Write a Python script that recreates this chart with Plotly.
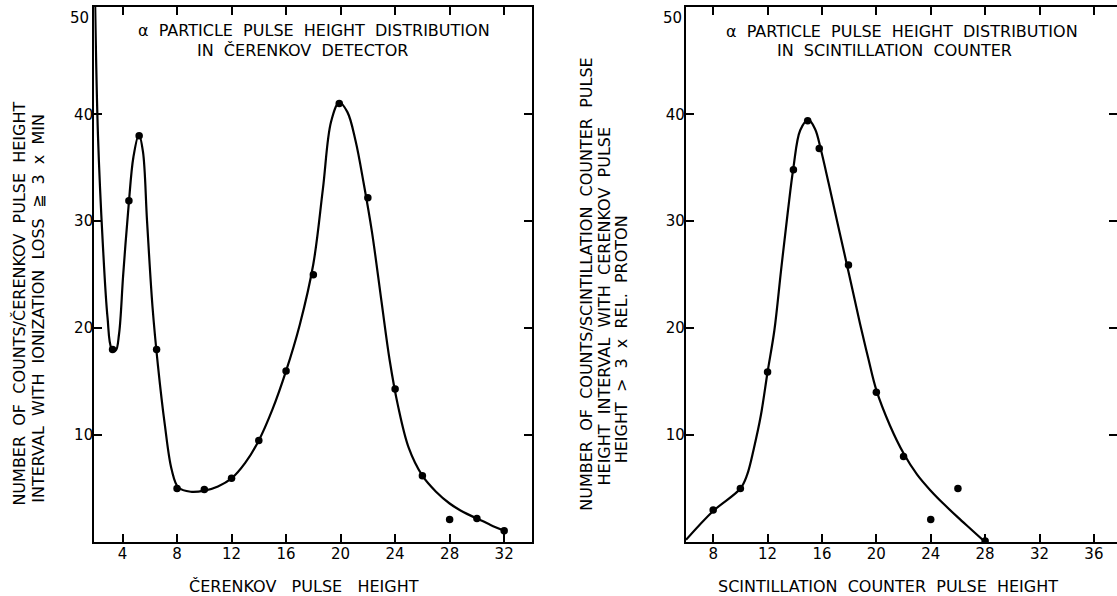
import plotly.graph_objects as go

W, H = 1117, 596

# ---------------- data ----------------
# Left panel: alpha particle pulse height distribution in Cerenkov detector
cer_pts_x = [3.27, 4.47, 5.22, 6.5, 8.0, 10.0, 12.0, 14.0, 16.0, 18.0, 19.9, 22.0, 24.0, 26.0, 28.0, 30.0, 32.0]
cer_pts_y = [18.0, 31.9, 38.0, 18.0, 5.0, 4.9, 5.95, 9.5, 16.0, 25.0, 41.0, 32.2, 14.3, 6.2, 2.1, 2.2, 1.05]

# hand-drawn fit curve (left panel)
cer_curve_x = [1.97, 2.2, 2.55, 2.9, 3.2, 3.5, 3.75, 4.05, 4.45, 4.8, 5.2, 5.5, 5.8, 6.2, 6.6,
               7.1, 7.6, 8.1, 9.0, 10.0, 11.0, 12.0, 13.0, 14.0, 15.0, 16.0, 17.0, 18.0, 18.7,
               19.3, 19.9, 20.5, 21.1, 21.7, 22.3, 23.0, 23.6, 24.2, 25.0, 26.0, 27.0, 28.0,
               29.0, 30.0, 31.0, 32.0]
cer_curve_y = [52.0, 38.0, 28.0, 21.0, 18.1, 17.9, 19.5, 25.0, 31.5, 36.0, 38.1, 36.5, 30.0, 22.0, 16.5,
               11.0, 6.8, 5.1, 4.7, 4.8, 5.2, 5.95, 7.4, 9.5, 12.4, 16.0, 20.3, 26.0, 33.0,
               39.3, 41.1, 40.2, 37.5, 33.5, 29.0, 22.5, 17.0, 12.8, 8.8, 6.2, 4.7, 3.6,
               2.8, 2.2, 1.6, 1.05]

# Right panel: alpha particle pulse height distribution in scintillation counter
sc_pts_x = [8.0, 10.0, 12.0, 13.9, 14.95, 15.8, 17.95, 20.0, 22.0, 24.0, 26.0, 28.0]
sc_pts_y = [3.0, 5.0, 15.9, 34.8, 39.4, 36.8, 25.9, 14.0, 8.0, 2.1, 5.0, 0.1]

# hand-drawn fit curve (right panel)
sc_curve_x = [6.0, 8.0, 10.0, 10.5, 11.0, 11.5, 12.0, 12.5, 13.0, 13.5, 13.9, 14.4, 15.0, 15.5,
              15.9, 16.5, 17.2, 18.0, 18.8, 19.4, 20.0, 21.0, 22.0, 23.0, 24.0, 25.0, 26.0,
              27.0, 28.0]
sc_curve_y = [0.2, 2.9, 5.0, 6.3, 8.8, 11.8, 15.9, 19.8, 25.5, 31.0, 35.0, 38.5, 39.5, 38.6,
              36.8, 33.5, 29.5, 25.0, 20.4, 17.2, 14.2, 10.9, 8.3, 6.3, 4.8, 3.5, 2.3,
              1.15, 0.0]

cer_xticks = [4, 8, 12, 16, 20, 24, 28, 32]
sc_xticks = [8, 12, 16, 20, 24, 28, 32, 36]
yticks = [10, 20, 30, 40, 50]
ytick_text = ["10", "20", "30", "40", ""]   # the top label "50" is lettered just below the frame
top_label = "50"

# ---------------- layout helpers ----------------
FONT = "DejaVu Sans"
T, B = 7, 54
PH = H - T - B


def px(x):
    return x / W


def py(y):
    return (H - B - y) / PH


NB = "\u00a0"


def sp(s, n=2):
    return s.replace(" ", NB * n)


fig = go.Figure()

fig.add_trace(go.Scatter(x=cer_curve_x, y=cer_curve_y, mode="lines",
                         line=dict(color="black", width=2.2, shape="spline", smoothing=1.0),
                         xaxis="x", yaxis="y", hoverinfo="skip", showlegend=False))
fig.add_trace(go.Scatter(x=cer_pts_x, y=cer_pts_y, mode="markers",
                         marker=dict(color="black", size=7.5),
                         xaxis="x", yaxis="y", showlegend=False))
fig.add_trace(go.Scatter(x=sc_curve_x, y=sc_curve_y, mode="lines",
                         line=dict(color="black", width=2.2, shape="spline", smoothing=1.0),
                         xaxis="x2", yaxis="y2", hoverinfo="skip", showlegend=False))
fig.add_trace(go.Scatter(x=sc_pts_x, y=sc_pts_y, mode="markers",
                         marker=dict(color="black", size=7.5),
                         xaxis="x2", yaxis="y2", showlegend=False))
# invisible trace to activate right-side tick axis of right panel
fig.add_trace(go.Scatter(x=[20], y=[20], mode="markers", marker=dict(opacity=0),
                         xaxis="x2", yaxis="y3", hoverinfo="skip", showlegend=False))

axstyle = dict(showline=True, linecolor="black", linewidth=2.2, ticks="inside",
               ticklen=8, tickwidth=2, tickcolor="black", showgrid=False, zeroline=False,
               tickfont=dict(family=FONT, size=15, color="black"))

YR = [0, 50.03]

fig.update_layout(
    width=W, height=H,
    margin=dict(l=0, r=0, t=T, b=B),
    paper_bgcolor="white", plot_bgcolor="white",
    xaxis=dict(domain=[px(94.3), px(531.7)], range=[1.93, 34.02], tickvals=cer_xticks,
               mirror="ticks", anchor="y", ticklabelstandoff=-3, **axstyle),
    yaxis=dict(domain=[0, 1], range=YR, tickvals=yticks, ticktext=ytick_text,
               mirror="ticks", anchor="x", ticklabelstandoff=-4, **axstyle),
    xaxis2=dict(domain=[px(686), 1], range=[6, 37.7], tickvals=sc_xticks,
                mirror="ticks", anchor="y2", ticklabelstandoff=-3, **axstyle),
    yaxis2=dict(domain=[0, 1], range=YR, tickvals=yticks, ticktext=ytick_text, anchor="x2",
                ticklabelstandoff=-4, **axstyle),
    yaxis3=dict(domain=[0, 1], range=YR, tickvals=yticks[:-1], overlaying="y2",
                side="right", anchor="x2", showline=False, ticks="inside", ticklen=8,
                tickwidth=2, tickcolor="black", showticklabels=False, showgrid=False,
                zeroline=False),
)

ann = []


def add(text, x, y, angle=0, size=16):
    ann.append(dict(text=text, x=px(x), y=py(y), xref="paper", yref="paper",
                    xanchor="center", yanchor="middle", showarrow=False, textangle=angle,
                    font=dict(family=FONT, size=size, color="black")))


# top "50" labels, placed on the y scale just below the frame
for xr, xpx in (("paper", 91), ("paper", 684)):
    ann.append(dict(text=top_label, x=px(xpx), y=yticks[-1], xref=xr, yref="y",
                    xanchor="right", yanchor="top", showarrow=False,
                    font=dict(family=FONT, size=15, color="black")))

# panel titles
add(sp("α PARTICLE PULSE HEIGHT DISTRIBUTION"), 314, 31)
add(sp("IN ČERENKOV DETECTOR"), 303, 50.5)
add(sp("α PARTICLE PULSE HEIGHT DISTRIBUTION"), 902, 31.5)
add(sp("IN SCINTILLATION COUNTER"), 894, 51)

# x-axis titles
add(sp("ČERENKOV PULSE HEIGHT", 3), 304, 586)
add(sp("SCINTILLATION COUNTER PULSE HEIGHT", 2), 888, 586)

# y-axis titles
add(sp("NUMBER OF COUNTS/ČERENKOV PULSE HEIGHT"), 18.6, 304, -90)
add(sp("INTERVAL WITH IONIZATION LOSS ≧ 3 x MIN"), 38.2, 308.5, -90)
add(sp("NUMBER OF COUNTS/SCINTILLATION COUNTER PULSE"), 585.7, 284, -90)
add(sp("HEIGHT INTERVAL WITH CERENKOV PULSE"), 603.5, 306, -90)
add(sp("HEIGHT > 3 x REL. PROTON"), 621.3, 339, -90)

fig.update_layout(annotations=ann)

fig.write_html("out.html")
